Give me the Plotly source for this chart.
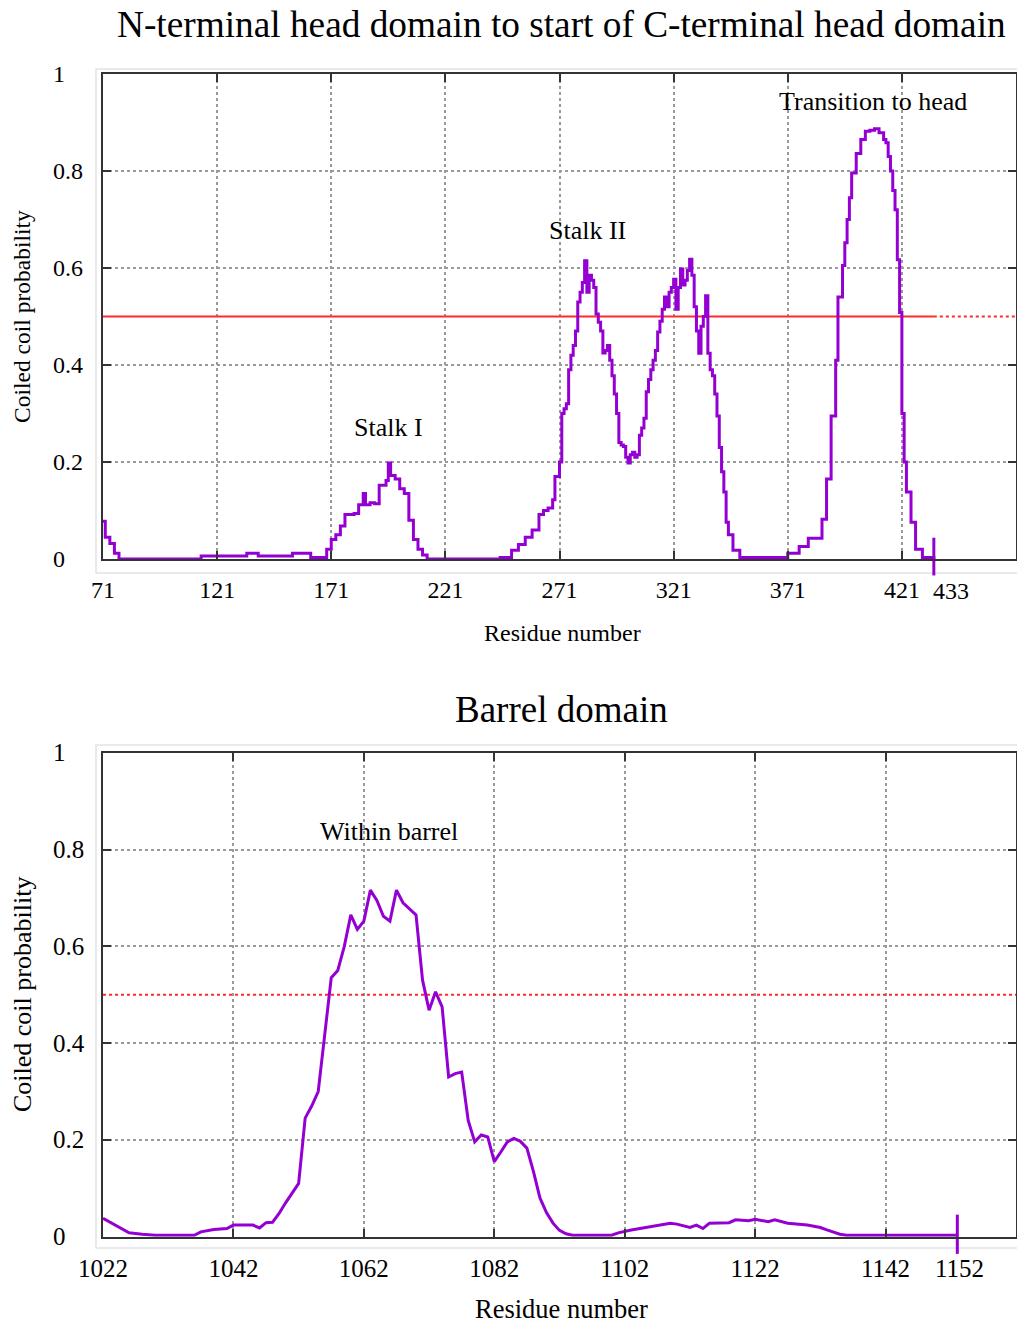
import plotly.graph_objects as go

# ---------------- data ----------------
top_residues = [71, 72, 74, 76, 78, 113, 114, 133, 134, 138, 139, 153, 154, 161, 162, 167,
                169, 171, 173, 175, 177, 181, 183, 185, 186, 188, 190, 192, 195, 196, 197, 199,
                201, 203, 205, 207, 209, 211, 213, 245, 250, 253, 256, 259, 262, 264, 266, 268,
                269, 271, 272, 273, 274, 275, 276, 277, 278, 279, 280, 281, 282, 283, 284, 285,
                286, 287, 288, 289, 290, 291, 292, 293, 294, 295, 296, 297, 298, 299, 300, 301,
                302, 303, 304, 305, 306, 307, 308, 309, 310, 311, 312, 313, 314, 315, 316, 317,
                318, 319, 320, 321, 322, 323, 324, 325, 326, 327, 328, 329, 330, 331, 332, 333,
                334, 335, 336, 337, 338, 339, 340, 341, 342, 343, 344, 345, 347, 350, 368, 371,
                376, 380, 385, 386, 388, 390, 392, 393, 395, 396, 397, 398, 399, 401, 403, 405,
                407, 409, 411, 413, 414, 415, 416, 417, 418, 419, 420, 421, 422, 423, 425, 427,
                430, 435]
top_probability = [0.078, 0.045, 0.032, 0.012, 0.0, 0.0, 0.006, 0.006, 0.012, 0.012, 0.006, 0.006, 0.012, 0.012, 0.003, 0.003,
                   0.02, 0.04, 0.05, 0.068, 0.092, 0.094, 0.112, 0.135, 0.112, 0.116, 0.114, 0.152, 0.162, 0.198, 0.172, 0.165,
                   0.145, 0.135, 0.08, 0.04, 0.02, 0.008, 0.0, 0.003, 0.018, 0.03, 0.045, 0.06, 0.092, 0.1, 0.105, 0.122,
                   0.17, 0.2, 0.3, 0.31, 0.32, 0.39, 0.42, 0.44, 0.47, 0.53, 0.55, 0.57, 0.615, 0.55, 0.585, 0.575,
                   0.56, 0.505, 0.488, 0.47, 0.425, 0.43, 0.44, 0.41, 0.378, 0.34, 0.3, 0.24, 0.235, 0.232, 0.21, 0.198,
                   0.215, 0.22, 0.21, 0.215, 0.255, 0.27, 0.29, 0.345, 0.37, 0.39, 0.41, 0.43, 0.468, 0.49, 0.515, 0.54,
                   0.52, 0.55, 0.56, 0.577, 0.515, 0.56, 0.598, 0.565, 0.575, 0.595, 0.618, 0.585, 0.52, 0.47, 0.424, 0.48,
                   0.5, 0.543, 0.424, 0.39, 0.378, 0.34, 0.295, 0.23, 0.18, 0.138, 0.076, 0.05, 0.018, 0.003, 0.003, 0.012,
                   0.026, 0.043, 0.043, 0.082, 0.165, 0.295, 0.41, 0.54, 0.605, 0.652, 0.7, 0.745, 0.796, 0.836, 0.865, 0.882,
                   0.884, 0.887, 0.879, 0.865, 0.858, 0.83, 0.8, 0.76, 0.72, 0.617, 0.508, 0.3, 0.2, 0.138, 0.076, 0.02,
                   0.003, 0.0]

barrel_residues = [1022, 1024, 1025, 1026, 1028, 1030, 1036, 1037, 1039, 1041, 1042, 1045, 1046, 1047, 1048,
                   1049, 1050, 1051, 1052, 1053, 1054, 1055, 1056, 1057, 1058, 1059, 1060, 1061, 1062, 1063,
                   1064, 1065, 1066, 1067, 1068, 1069, 1070, 1071, 1072, 1073, 1074, 1075, 1076, 1077, 1078,
                   1079, 1080, 1081, 1082, 1083, 1084, 1085, 1086, 1087, 1088, 1089, 1090, 1091, 1092, 1093,
                   1094, 1100, 1101, 1103, 1105, 1107, 1109, 1110, 1112, 1113, 1114, 1115, 1118, 1119, 1121,
                   1122, 1124, 1125, 1127, 1130, 1132, 1133, 1134, 1135, 1136, 1153]
barrel_probability = [0.038, 0.023, 0.014, 0.008, 0.005, 0.003, 0.003, 0.01, 0.015, 0.017, 0.024, 0.024, 0.018, 0.029, 0.03,
                      0.048, 0.07, 0.09, 0.11, 0.245, 0.27, 0.3, 0.42, 0.535, 0.55, 0.6, 0.665, 0.635, 0.652, 0.716,
                      0.695, 0.662, 0.652, 0.716, 0.69, 0.678, 0.665, 0.53, 0.468, 0.506, 0.475, 0.33, 0.337, 0.34, 0.24,
                      0.196, 0.21, 0.206, 0.155, 0.175, 0.196, 0.203, 0.197, 0.183, 0.135, 0.08, 0.05, 0.028, 0.013, 0.006,
                      0.003, 0.003, 0.008, 0.014, 0.019, 0.024, 0.028, 0.026, 0.019, 0.024, 0.017, 0.028, 0.029, 0.035, 0.033,
                      0.036, 0.031, 0.035, 0.028, 0.024, 0.019, 0.014, 0.01, 0.005, 0.003, 0.003]

threshold = 0.5
top_range = [71, 471]
barrel_range = [1022, 1162]
top_xticks = [71, 121, 171, 221, 271, 321, 371, 421]
barrel_xticks = [1022, 1042, 1062, 1082, 1102, 1122, 1142]
top_end_residue, top_end_label = 435, "433"
barrel_end_residue, barrel_end_label = 1153, "1152"
y_ticks = [0, 0.2, 0.4, 0.6, 0.8, 1]
y_tick_text = ["0", "0.2", "0.4", "0.6", "0.8", "1"]

top_title = "N-terminal head domain to start of C-terminal head domain"
barrel_title = "Barrel domain"
x_title = "Residue number"
y_title = "Coiled coil probability"
top_labels = [("Stalk I", 196, 0.272), ("Stalk II", 283.3, 0.678), ("Transition to head", 408.4, 0.944)]
barrel_labels = [("Within barrel", 1065.9, 0.838)]

# ---------------- styling ----------------
FONT = "Liberation Serif, Times New Roman, serif"
PURPLE = "#9400D3"
RED = "#ff2a2a"
W, H = 1017, 1323
L, R = 103, 1

def py(p):  # pixel y -> paper
    return 1 - p / H

def px(p):  # pixel x -> paper
    return (p - L) / (W - L - R)

fig = go.Figure()

# threshold lines
fig.add_trace(go.Scatter(x=[top_range[0], top_end_residue], y=[threshold, threshold], mode="lines",
                         line=dict(color=RED, width=2), xaxis="x", yaxis="y", showlegend=False))
fig.add_trace(go.Scatter(x=[top_end_residue, top_range[1]], y=[threshold, threshold], mode="lines",
                         line=dict(color=RED, width=2, dash="dot"), xaxis="x", yaxis="y", showlegend=False))
fig.add_trace(go.Scatter(x=barrel_range, y=[threshold, threshold], mode="lines",
                         line=dict(color=RED, width=2, dash="dot"), xaxis="x2", yaxis="y2", showlegend=False))

# curves
fig.add_trace(go.Scatter(x=top_residues, y=top_probability, mode="lines",
                         line=dict(color=PURPLE, width=3, shape="hv"), xaxis="x", yaxis="y", showlegend=False))
fig.add_trace(go.Scatter(x=barrel_residues, y=barrel_probability, mode="lines",
                         line=dict(color=PURPLE, width=3), xaxis="x2", yaxis="y2", showlegend=False))

# end markers
fig.add_trace(go.Scatter(x=[top_end_residue], y=[0.005], mode="markers", cliponaxis=False,
                         marker=dict(symbol="line-ns", size=27, line=dict(color=PURPLE, width=3)),
                         xaxis="x", yaxis="y", showlegend=False))
fig.add_trace(go.Scatter(x=[barrel_end_residue], y=[0.005], mode="markers", cliponaxis=False,
                         marker=dict(symbol="line-ns", size=28, line=dict(color=PURPLE, width=3)),
                         xaxis="x2", yaxis="y2", showlegend=False))

def xaxis(rng, ticks, dom_anchor, size):
    return dict(range=rng, tickvals=ticks, ticktext=[str(t) for t in ticks], anchor=dom_anchor,
                showgrid=True, gridcolor="#9a9a9a", griddash="dot", gridwidth=1.5,
                showline=True, linecolor="#333333", linewidth=2, mirror="ticks",
                ticks="inside", ticklen=8, tickwidth=1.5, tickcolor="#333333",
                tickfont=dict(family=FONT, size=size, color="black"), ticklabelstandoff=8,
                zeroline=False, fixedrange=True)

def yaxis(dom, anchor):
    return dict(range=[0, 1], domain=dom, tickvals=y_ticks, showticklabels=False, anchor=anchor,
                showgrid=True, gridcolor="#9a9a9a", griddash="dot", gridwidth=1.5,
                showline=True, linecolor="#333333", linewidth=2, mirror="ticks",
                ticks="inside", ticklen=8, tickwidth=1.5, tickcolor="#333333",
                zeroline=False, fixedrange=True)

annotations = []
def ann(text, x, y, xref, yref, size, **kw):
    d = dict(text=text, x=x, y=y, xref=xref, yref=yref, showarrow=False,
             font=dict(family=FONT, size=size, color="black"))
    d.update(kw)
    annotations.append(d)

# titles
ann(top_title, px(561.5), py(25), "paper", "paper", 37.3, xanchor="center", yanchor="middle")
ann(barrel_title, px(561), py(710), "paper", "paper", 37, xanchor="center", yanchor="middle")
ann(x_title, px(562), py(633), "paper", "paper", 24, xanchor="center", yanchor="middle")
ann(x_title, px(561), py(1309), "paper", "paper", 26.5, xanchor="center", yanchor="middle")
ann(y_title, px(22), py(317), "paper", "paper", 23.5, xanchor="center", yanchor="middle", textangle=-90)
ann(y_title, px(22), py(995), "paper", "paper", 26, xanchor="center", yanchor="middle", textangle=-90)

# y tick labels (left aligned like the original)
for v, t in zip(y_ticks, y_tick_text):
    ann(t, px(51), v, "paper", "y", 24, xanchor="left", yanchor="middle")
    ann(t, px(51), v, "paper", "y2", 25, xanchor="left", yanchor="middle")

# end labels
ann(top_end_label, top_end_residue, 0, "x", "y", 24, xanchor="left", yanchor="top", xshift=-3, yshift=-17)
ann(barrel_end_label, barrel_end_residue, 0, "x2", "y2", 25, xanchor="center", yanchor="top", xshift=2, yshift=-16)

# region labels
for t, x, y in top_labels:
    ann(t, x, y, "x", "y", 26, xanchor="center", yanchor="middle")
for t, x, y in barrel_labels:
    ann(t, x, y, "x2", "y2", 26, xanchor="center", yanchor="middle")

shapes = [
    dict(type="rect", xref="paper", yref="paper", x0=px(96), x1=px(1030), y0=py(573), y1=py(69),
         line=dict(color="#e4e4e4", width=1.5), layer="below"),
    dict(type="rect", xref="paper", yref="paper", x0=px(96), x1=px(1030), y0=py(1248), y1=py(745),
         line=dict(color="#e4e4e4", width=1.5), layer="below"),
]

fig.update_layout(
    width=W, height=H, autosize=False,
    margin=dict(l=L, r=R, t=0, b=0, pad=0),
    paper_bgcolor="white", plot_bgcolor="white",
    showlegend=False,
    xaxis=xaxis(top_range, top_xticks, "y", 24),
    yaxis=yaxis([py(559), py(74)], "x"),
    xaxis2=xaxis(barrel_range, barrel_xticks, "y2", 25),
    yaxis2=yaxis([py(1236.7), py(752.7)], "x2"),
    annotations=annotations,
    shapes=shapes,
)

fig.write_html("out.html")
